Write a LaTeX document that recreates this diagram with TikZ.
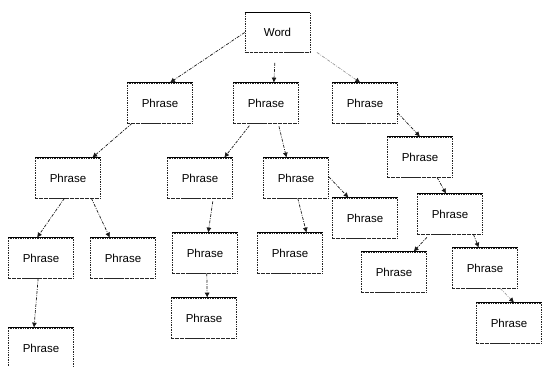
\documentclass[tikz,border=0pt]{standalone}
\usepackage{fontspec}
\setmainfont{Liberation Sans}
\usetikzlibrary{arrows.meta}
\begin{document}
\begin{tikzpicture}[x=1pt,y=-1pt,
  box/.style={draw=black!85, densely dotted, line width=0.7pt, minimum width=65pt, minimum height=40pt, inner sep=0pt, font=\fontsize{11.5}{12}\selectfont},
  conn/.style={draw=black!90, line width=0.7pt, dash pattern=on 3pt off 1.3pt on 0.8pt off 1.3pt, -{Latex[length=5pt,width=5pt]}},
  faint/.style={draw=black!40, line width=0.7pt, dash pattern=on 3pt off 1.3pt on 0.8pt off 1.3pt, -{Latex[length=5pt,width=5pt,color=black!90]}},
  topedge/.style={draw=black, line width=1pt},
  botedge/.style={draw=black!85, line width=0.8pt, densely dashed}]
\useasboundingbox (0,0) rectangle (542,367);
\node[box] (w) at (277.5,32.5) {Word};
\node[box] (a) at (160,103) {Phrase};
\node[box] (b) at (266,103) {Phrase};
\node[box] (c) at (365,103) {Phrase};
\node[box] (c2) at (420,157) {Phrase};
\node[box] (a2) at (68,178) {Phrase};
\node[box] (bl) at (200,178) {Phrase};
\node[box] (br) at (296,178) {Phrase};
\node[box] (a3l) at (41,258) {Phrase};
\node[box] (a3r) at (123,258) {Phrase};
\node[box] (bl3) at (205,253) {Phrase};
\node[box] (br3l) at (290,253) {Phrase};
\node[box] (br3r) at (365,218) {Phrase};
\node[box] (c3) at (450,214) {Phrase};
\node[box] (c4l) at (394,272) {Phrase};
\node[box] (c4r) at (485,268) {Phrase};
\node[box] (c5) at (509,323) {Phrase};
\node[box] (bl4) at (204,318) {Phrase};
\node[box] (a4) at (41,348) {Phrase};
\foreach \n in {w,a,b,c,c2,a2,bl,br,a3l,a3r,bl3,br3l,br3r,c3,c4l,c4r,c5,bl4,a4}{
  \draw[topedge] (\n.north west) -- (\n.north east);
  \draw[botedge] (\n.south west) -- (\n.south east);
}
\draw[conn] (w.180) -- (a.64);
\draw[conn, shorten <=10pt] (w.-96) -- (b.69);
\draw[faint, shorten <=8pt] (w.-25) -- (c.103);
\draw[conn] (a.216) -- (a2.40);
\draw[conn, shorten <=3pt] (b.234) -- (bl.40);
\draw[conn, shorten <=3pt] (b.301) -- (br.115);
\draw[conn] (c.343) -- (c2.90);
\draw[conn] (a2.260) -- (a3l.101);
\draw[conn] (a2.319) -- (a3r.123);
\draw[conn, shorten <=3pt] (bl.303) -- (bl3.81);
\draw[conn] (bl3.275) -- (bl4.81);
\draw[conn] (br.275) -- (br3l.51);
\draw[conn] (br.2) -- (br3r.129);
\draw[conn] (c2.310) -- (c3.101);
\draw[conn, shorten <=4pt] (c3.225) -- (c4l.46);
\draw[conn] (c3.319) -- (c4r.107);
\draw[faint] (c4r.307) -- (c5.76);
\draw[conn] (a3l.262) -- (a4.109);
\end{tikzpicture}
\end{document}
